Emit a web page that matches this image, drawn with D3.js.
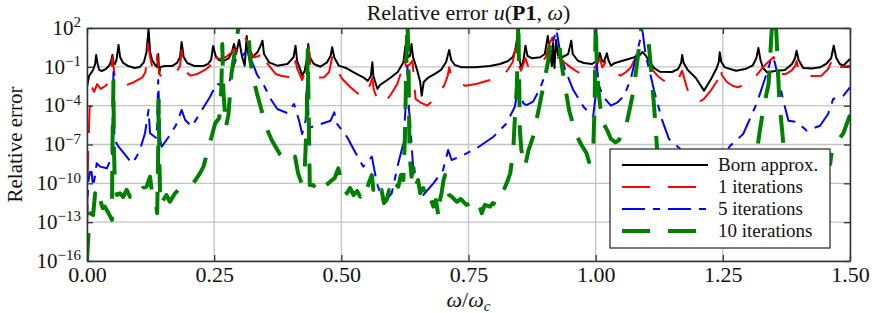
<!DOCTYPE html>
<html>
<head>
<meta charset="utf-8">
<script src="https://cdn.jsdelivr.net/npm/d3@7"></script>
<style>
  body { margin: 0; background: #fff; }
  svg text { font-family: "Liberation Serif", "DejaVu Serif", serif; fill: #111; }
</style>
</head>
<body>
<div id="chart"></div>
<script>
// x tick labels and y tick exponents
const xTicks = [0, 0.25, 0.5, 0.75, 1.0, 1.25, 1.5];
const yTickExps = [2, -1, -4, -7, -10, -13, -16];

// series: [omega/omega_c, log10(relative error)]
const born = [
  [0.000,-2.56],[0.004,-1.71],[0.008,-1.48],[0.012,-1.24],[0.016,-0.78],[0.018,-0.09],[0.021,-0.78],
  [0.024,-1.24],[0.029,-1.32],[0.037,-1.17],[0.043,-0.94],[0.047,-0.63],[0.050,-0.09],[0.052,-0.63],
  [0.055,-0.78],[0.058,-0.47],[0.062,0.69],[0.065,-0.24],[0.071,-0.70],[0.081,-0.94],[0.094,-1.09],
  [0.104,-1.01],[0.112,-0.63],[0.117,0.15],[0.121,1.96],[0.124,0.15],[0.128,-0.47],[0.134,-0.86],
  [0.138,-1.01],[0.140,0.0],[0.142,-1.55],[0.144,-1.01],[0.153,-0.94],[0.167,-0.94],[0.177,-0.70],
  [0.183,-0.24],[0.186,0.92],[0.190,-0.24],[0.197,-0.70],[0.212,-0.94],[0.228,-0.94],[0.238,-0.78],
  [0.244,-0.47],[0.248,0.61],[0.253,-0.16],[0.259,-0.47],[0.269,-0.55],[0.279,-0.32],[0.285,0.15],
  [0.289,0.76],[0.293,-0.01],[0.299,1.07],[0.305,-0.24],[0.310,-0.91],[0.314,1.38],[0.317,-0.01],
  [0.320,-0.53],[0.325,-0.26],[0.335,0.12],[0.341,0.61],[0.345,1.02],[0.348,-0.01],[0.358,-0.65],
  [0.374,-0.91],[0.394,-0.78],[0.406,-0.26],[0.410,0.63],[0.413,-0.53],[0.419,-1.17],[0.423,-1.68],
  [0.428,-1.30],[0.433,-0.26],[0.435,0.76],[0.438,-0.26],[0.446,-0.78],[0.459,-0.99],[0.472,-0.65],
  [0.479,-0.14],[0.482,0.51],[0.486,-0.26],[0.495,-0.91],[0.509,-1.09],[0.527,-1.48],[0.545,-1.86],
  [0.552,-2.09],[0.558,-1.71],[0.561,-0.65],[0.563,-1.71],[0.571,-2.71],[0.576,-2.40],[0.596,-1.86],
  [0.611,-1.40],[0.622,-0.65],[0.626,0.61],[0.631,-0.24],[0.635,-0.16],[0.638,0.76],[0.641,-0.24],
  [0.649,-1.24],[0.655,-2.17],[0.658,-3.23],[0.662,-2.17],[0.670,-1.86],[0.684,-1.55],[0.696,-1.24],
  [0.706,-0.63],[0.712,0.30],[0.716,-0.47],[0.723,-0.86],[0.737,-1.04],[0.763,-1.04],[0.792,-0.94],
  [0.812,-0.78],[0.828,-0.55],[0.837,-0.24],[0.842,0.30],[0.846,1.28],[0.849,-0.09],[0.854,-1.17],
  [0.858,-0.47],[0.862,0.63],[0.866,-0.16],[0.875,-0.34],[0.891,-0.26],[0.900,-0.01],[0.906,1.38],
  [0.910,0.15],[0.914,-0.94],[0.916,0.84],[0.919,-1.09],[0.922,1.07],[0.926,-0.09],[0.934,-0.26],
  [0.946,-0.01],[0.952,1.02],[0.955,-0.01],[0.965,-0.53],[0.977,-0.70],[0.993,-0.78],[1.005,-0.47],
  [1.008,0.07],[1.012,-0.47],[1.016,-0.65],[1.022,0.05],[1.025,-0.47],[1.030,-0.91],[1.038,-0.70],
  [1.058,-0.47],[1.076,-0.26],[1.088,-0.05],[1.092,0.15],[1.099,-0.16],[1.107,-0.70],[1.115,-1.09],
  [1.126,-1.38],[1.150,-1.40],[1.162,-1.17],[1.168,-0.70],[1.170,-0.09],[1.173,-0.70],[1.181,-1.24],
  [1.197,-1.86],[1.213,-2.84],[1.228,-1.86],[1.238,-1.09],[1.242,-0.63],[1.244,0.12],[1.247,-0.63],
  [1.254,-1.04],[1.276,-1.30],[1.294,-1.17],[1.309,-0.88],[1.316,-0.32],[1.320,0.45],[1.324,-0.47],
  [1.329,-1.09],[1.337,-1.42],[1.353,-1.32],[1.372,-1.24],[1.386,-0.78],[1.392,-0.32],[1.395,0.25],
  [1.399,-0.47],[1.408,-1.09],[1.425,-1.13],[1.441,-1.04],[1.453,-0.78],[1.463,-0.32],[1.468,0.63],
  [1.473,-0.32],[1.480,-0.78],[1.487,-0.91],[1.494,-0.63],[1.500,-0.40]
];

const iter1 = [
  [0.000,-13.22],[0.002,-8.20],[0.005,-4.33],[0.007,-3.72],[0.010,-2.58],[0.014,-2.94],[0.020,-2.33],
  [0.027,-2.71],[0.037,-2.46],[0.043,-2.17],[0.047,-1.55],[0.050,-0.26],[0.054,-1.55],[0.060,-2.25],
  [0.069,-2.46],[0.081,-2.36],[0.092,-2.19],[0.109,-1.81],[0.115,-1.40],[0.120,0.76],[0.124,-0.24],
  [0.128,-0.94],[0.135,-1.40],[0.138,-0.09],[0.142,-1.55],[0.148,-1.81],[0.165,-1.55],[0.177,-1.32],
  [0.183,-0.94],[0.186,0.30],[0.191,-1.30],[0.204,-1.68],[0.217,-1.55],[0.232,-1.24],[0.242,-0.94],
  [0.248,0.15],[0.254,-0.32],[0.263,-0.39],[0.273,-0.24],[0.283,0.07],[0.289,0.38],[0.297,0.15],
  [0.303,0.92],[0.309,1.30],[0.314,1.07],[0.320,0.30],[0.328,-0.26],[0.338,-0.16],[0.345,0.25],
  [0.348,-0.32],[0.355,-0.78],[0.371,-1.55],[0.383,-1.71],[0.404,-1.81],[0.408,-1.24],[0.410,-0.53],
  [0.413,-1.09],[0.423,-2.02],[0.431,-1.09],[0.436,0.51],[0.439,-0.94],[0.443,-1.68],[0.454,-1.82],
  [0.466,-1.81],[0.476,-1.40],[0.482,-0.26],[0.486,-0.94],[0.492,-1.30],[0.502,-1.94],[0.518,-2.58],
  [0.531,-3.02],[0.545,-3.35],[0.554,-2.64],[0.558,-2.19],[0.561,-1.86],[0.564,-2.79],[0.570,-3.41],
  [0.584,-3.87],[0.598,-3.10],[0.610,-2.33],[0.619,-1.24],[0.623,-0.26],[0.627,-0.94],[0.633,-0.86],
  [0.640,-0.53],[0.643,-2.17],[0.646,-3.48],[0.657,-3.79],[0.669,-4.00],[0.679,-3.62],[0.690,-3.02],
  [0.702,-2.46],[0.709,-1.71],[0.712,-1.04],[0.716,-1.71],[0.729,-2.25],[0.744,-2.46],[0.765,-2.33],
  [0.782,-2.13],[0.800,-1.94],[0.812,-1.79],[0.826,-1.30],[0.837,-0.63],[0.843,0.51],[0.846,-0.47],
  [0.853,-1.30],[0.858,-0.78],[0.862,-0.32],[0.867,-0.94],[0.875,-1.04],[0.891,-0.78],[0.902,-0.26],
  [0.908,0.69],[0.915,1.28],[0.919,0.45],[0.922,-0.32],[0.928,-0.26],[0.940,-0.70],[0.951,-1.04],
  [0.963,-1.36],[0.977,-1.68],[0.991,-1.40],[1.003,-0.78],[1.008,-0.32],[1.013,-1.04],[1.020,-0.63],
  [1.024,-0.78],[1.036,-1.40],[1.049,-1.68],[1.060,-1.40],[1.069,-1.04],[1.082,-0.01],[1.091,0.15],
  [1.102,-0.14],[1.107,-0.63],[1.111,-1.17],[1.122,-1.71],[1.134,-2.07],[1.151,-2.33],[1.164,-1.81],
  [1.170,-1.30],[1.174,-1.86],[1.180,-2.71],[1.188,-3.25],[1.197,-3.74],[1.205,-3.68],[1.213,-3.48],
  [1.227,-2.79],[1.239,-2.07],[1.244,-1.40],[1.246,-1.04],[1.248,-1.63],[1.258,-2.17],[1.270,-2.48],
  [1.280,-2.58],[1.303,-2.19],[1.315,-1.71],[1.326,-1.17],[1.335,-0.78],[1.346,-0.39],[1.350,-0.24],
  [1.354,-0.94],[1.362,-1.55],[1.374,-1.55],[1.385,-1.30],[1.392,-0.94],[1.395,-0.53],[1.398,-1.09],
  [1.402,-1.55],[1.421,-1.71],[1.444,-1.68],[1.457,-1.17],[1.467,-0.26],[1.472,-0.78],[1.480,-1.04],
  [1.490,-0.97],[1.500,-0.91]
];

const iter5 = [
  [0.000,-13.45],[0.001,-11.29],[0.003,-9.74],[0.006,-9.12],[0.009,-9.10],[0.012,-10.26],[0.016,-9.36],
  [0.019,-8.45],[0.026,-8.71],[0.039,-8.84],[0.049,-7.94],[0.052,-1.40],[0.054,-6.65],[0.062,-7.17],
  [0.078,-7.94],[0.088,-8.45],[0.096,-8.04],[0.104,-7.43],[0.114,-6.13],[0.121,-4.33],[0.124,-6.13],
  [0.137,-6.52],[0.140,-2.02],[0.144,-6.65],[0.147,-7.17],[0.163,-6.27],[0.175,-5.49],[0.186,-4.33],
  [0.193,-5.11],[0.206,-5.62],[0.222,-4.59],[0.242,-3.31],[0.255,-2.27],[0.268,-2.53],[0.281,-2.02],
  [0.288,-0.99],[0.295,-0.16],[0.304,-0.22],[0.314,0.22],[0.324,-0.55],[0.334,-1.59],[0.347,-2.36],
  [0.360,-3.41],[0.374,-4.26],[0.394,-4.57],[0.407,-3.87],[0.417,-5.16],[0.423,-6.19],[0.430,-5.11],
  [0.433,-1.81],[0.436,-5.49],[0.440,-5.67],[0.459,-5.42],[0.479,-5.16],[0.486,-4.51],[0.492,-5.42],
  [0.511,-6.40],[0.527,-7.58],[0.543,-8.71],[0.560,-7.94],[0.570,-10.00],[0.583,-11.54],[0.599,-10.77],
  [0.612,-8.45],[0.622,-6.91],[0.626,-4.33],[0.630,-0.99],[0.633,-4.33],[0.635,-5.11],[0.641,-8.71],
  [0.651,-10.13],[0.661,-10.90],[0.681,-10.00],[0.700,-8.97],[0.710,-7.43],[0.717,-8.20],[0.740,-7.81],
  [0.766,-7.29],[0.799,-6.40],[0.825,-5.36],[0.841,-4.08],[0.848,-2.53],[0.858,-3.82],[0.864,-3.95],
  [0.877,-3.69],[0.891,-2.64],[0.904,-1.24],[0.917,1.07],[0.923,1.85],[0.930,0.15],[0.940,-1.24],
  [0.956,-2.79],[0.976,-4.08],[0.995,-4.85],[1.000,-3.18],[1.002,-0.73],[1.006,-2.40],[1.015,-3.31],
  [1.030,-4.00],[1.043,-3.74],[1.056,-3.23],[1.069,-1.94],[1.082,0.25],[1.092,1.79],[1.098,-0.01],
  [1.115,-2.84],[1.131,-5.16],[1.144,-6.57],[1.170,-7.48],[1.215,-10.13],[1.264,-7.12],[1.290,-6.19],
  [1.317,-3.79],[1.336,-1.55],[1.346,-0.26],[1.352,-0.63],[1.369,-3.62],[1.379,-5.16],[1.395,-5.26],
  [1.415,-5.93],[1.441,-5.55],[1.457,-4.64],[1.467,-3.48],[1.487,-3.23],[1.500,-2.58]
];

const iter10 = [
  [0.000,-16.0],[0.003,-13.86],[0.006,-12.31],[0.012,-12.45],[0.016,-10.77],[0.020,-11.67],[0.026,-11.29],
  [0.031,-11.91],[0.035,-11.80],[0.041,-12.21],[0.049,-12.83],[0.050,-7.43],[0.052,-2.07],[0.053,-7.43],
  [0.055,-10.26],[0.059,-10.90],[0.065,-10.77],[0.071,-11.06],[0.078,-10.51],[0.085,-11.06],[0.091,-11.03],
  [0.098,-10.59],[0.104,-10.77],[0.110,-10.36],[0.117,-10.26],[0.124,-9.49],[0.127,-10.51],[0.130,-11.03],
  [0.136,-11.67],[0.138,-12.31],[0.140,-7.43],[0.141,-3.56],[0.142,-7.43],[0.144,-11.67],[0.150,-11.29],
  [0.156,-10.90],[0.163,-11.42],[0.173,-10.77],[0.183,-10.38],[0.196,-10.13],[0.209,-10.00],[0.222,-9.23],
  [0.229,-8.71],[0.240,-7.12],[0.252,-5.36],[0.260,-4.95],[0.264,-2.79],[0.266,0.76],[0.268,-2.79],
  [0.273,-5.67],[0.278,-4.72],[0.284,-1.55],[0.291,0.30],[0.297,1.85],[0.308,3.0],[0.317,1.85],
  [0.321,-0.47],[0.327,-1.86],[0.334,-3.04],[0.343,-4.33],[0.353,-5.73],[0.363,-6.65],[0.379,-7.74],
  [0.393,-8.35],[0.401,-8.20],[0.409,-7.94],[0.415,-9.23],[0.422,-10.00],[0.428,-8.97],[0.432,-5.11],
  [0.434,0.30],[0.436,-5.11],[0.438,-10.13],[0.445,-10.13],[0.451,-10.51],[0.458,-10.00],[0.468,-10.21],
  [0.478,-9.87],[0.487,-9.59],[0.494,-8.84],[0.497,-9.36],[0.501,-10.26],[0.511,-10.77],[0.517,-10.36],
  [0.524,-10.90],[0.531,-10.59],[0.537,-11.03],[0.543,-10.28],[0.550,-10.51],[0.554,-9.97],[0.560,-9.36],
  [0.563,-10.51],[0.566,-10.26],[0.572,-10.90],[0.579,-10.51],[0.584,-11.52],[0.589,-11.29],[0.594,-10.51],
  [0.599,-10.77],[0.605,-9.90],[0.612,-10.26],[0.617,-9.36],[0.622,-9.74],[0.625,-6.40],[0.628,-0.47],
  [0.630,2.6],[0.632,-0.47],[0.634,-7.68],[0.638,-9.49],[0.642,-8.82],[0.645,-10.26],[0.651,-9.74],
  [0.655,-10.77],[0.661,-10.36],[0.668,-11.29],[0.674,-10.98],[0.681,-11.80],[0.686,-11.29],[0.691,-12.58],
  [0.694,-11.29],[0.697,-10.77],[0.701,-9.74],[0.704,-9.36],[0.707,-10.51],[0.712,-10.90],[0.717,-11.03],
  [0.727,-11.42],[0.735,-11.21],[0.746,-11.67],[0.755,-11.52],[0.766,-11.93],[0.771,-11.60],[0.776,-12.31],
  [0.782,-11.67],[0.792,-11.80],[0.798,-11.52],[0.805,-11.67],[0.812,-11.13],[0.818,-10.65],[0.826,-9.90],
  [0.832,-9.23],[0.838,-7.43],[0.841,-5.11],[0.845,-2.53],[0.848,2.6],[0.851,-5.88],[0.854,-7.43],
  [0.861,-8.71],[0.868,-7.43],[0.877,-6.40],[0.887,-4.49],[0.897,-2.53],[0.907,-0.47],[0.914,1.85],
  [0.920,3.0],[0.926,1.85],[0.931,-0.26],[0.938,-2.07],[0.948,-4.39],[0.961,-6.19],[0.971,-6.96],
  [0.982,-7.68],[0.987,-8.35],[0.991,-8.04],[0.995,-7.68],[0.998,-3.82],[1.000,2.6],[1.002,-0.47],
  [1.005,-2.64],[1.013,-5.42],[1.016,-5.42],[1.023,-5.93],[1.030,-6.57],[1.039,-6.83],[1.046,-6.65],
  [1.056,-5.42],[1.061,-5.36],[1.074,-2.94],[1.082,-0.53],[1.089,1.79],[1.095,3.0],[1.102,1.79],
  [1.108,-0.78],[1.115,-4.13],[1.121,-7.48],[1.136,-10.13],[1.205,-11.67],[1.284,-10.51],[1.313,-8.58],
  [1.323,-5.88],[1.327,-4.88],[1.336,-3.04],[1.340,-2.33],[1.346,1.79],[1.351,3.0],[1.355,1.79],
  [1.361,-3.62],[1.369,-6.96],[1.382,-8.58],[1.421,-10.13],[1.451,-8.97],[1.461,-8.51],[1.465,-7.27],
  [1.487,-6.13],[1.500,-4.72]
];

const seriesNames = ["Born approx.", "1 iterations", "5 iterations", "10 iterations"];
const seriesData = [born, iter1, iter5, iter10];
const seriesColors = ["#000000", "#ff0000", "#0000ff", "#008000"];
const seriesWidths = [2, 2, 2, 4];
const seriesDashes = [null, "28,18", "23,8,7,8", "28,18"];

const width = 872, height = 313;
const margin = { top: 28, right: 22, bottom: 52, left: 87 };
const innerW = width - margin.left - margin.right;
const innerH = height - margin.top - margin.bottom;

const svg = d3.select("#chart").append("svg")
  .attr("width", width).attr("height", height);

const x = d3.scaleLinear().domain([0, 1.5]).range([margin.left, width - margin.right]);
const y = d3.scaleLog().domain([1e-16, 1e2]).range([height - margin.bottom, margin.top]);
const yTicks = yTickExps.map(e => Math.pow(10, e));

// grid
const grid = svg.append("g").attr("stroke", "#c4c4c4").attr("stroke-width", 1.3);
grid.selectAll("line.gx").data(xTicks).join("line")
  .attr("x1", d => x(d)).attr("x2", d => x(d))
  .attr("y1", margin.top).attr("y2", height - margin.bottom);
grid.selectAll("line.gy").data(yTicks).join("line")
  .attr("x1", margin.left).attr("x2", width - margin.right)
  .attr("y1", d => y(d)).attr("y2", d => y(d));

svg.append("clipPath").attr("id", "clip").append("rect")
  .attr("x", margin.left).attr("y", margin.top).attr("width", innerW).attr("height", innerH);

const line = d3.line().x(d => x(d[0])).y(d => y(Math.pow(10, d[1])));

const plot = svg.append("g").attr("clip-path", "url(#clip)");
seriesData.forEach((s, i) => {
  plot.append("path").datum(s)
    .attr("d", line)
    .attr("fill", "none")
    .attr("stroke", seriesColors[i])
    .attr("stroke-width", seriesWidths[i])
    .attr("stroke-dasharray", seriesDashes[i])
    .attr("stroke-linejoin", "round");
});

// axes with inward ticks on all sides
const axisStyle = g => {
  g.select(".domain").attr("stroke", "#333").attr("stroke-width", 1.5);
  g.selectAll(".tick line").attr("stroke", "#333").attr("stroke-width", 1.3);
};
svg.append("g").attr("transform", `translate(0,${height - margin.bottom})`)
  .call(d3.axisBottom(x).tickValues(xTicks).tickSize(-6).tickSizeOuter(0).tickPadding(5).tickFormat(d3.format(".2f")))
  .call(axisStyle)
  .call(g => g.selectAll("text").attr("font-size", 22).attr("font-family", "Liberation Serif").attr("fill", "#111"));
svg.append("g").attr("transform", `translate(0,${margin.top})`)
  .call(d3.axisTop(x).tickValues(xTicks).tickSize(-6).tickSizeOuter(0).tickFormat(""))
  .call(axisStyle);
svg.append("g").attr("transform", `translate(${margin.left},0)`)
  .call(d3.axisLeft(y).tickValues(yTicks).tickSize(-6).tickSizeOuter(0).tickPadding(8).tickFormat(""))
  .call(axisStyle)
  .call(g => g.selectAll(".tick").each(function (d) {
    const t = d3.select(this).append("text")
      .attr("x", -6).attr("dy", "0.3em").attr("text-anchor", "end")
      .attr("font-size", 21).attr("fill", "#111");
    t.append("tspan").text("10");
    t.append("tspan").attr("dy", "-0.5em").attr("font-size", 15)
      .text(String(Math.round(Math.log10(d))).replace("-", "\u2212"));
  }));
svg.append("g").attr("transform", `translate(${width - margin.right},0)`)
  .call(d3.axisRight(y).tickValues(yTicks).tickSize(-6).tickSizeOuter(0).tickFormat(""))
  .call(axisStyle);

// title
const title = svg.append("text").attr("x", (margin.left + width - margin.right) / 2).attr("y", 20)
  .attr("text-anchor", "middle").attr("font-size", 22);
title.append("tspan").text("Relative error ");
title.append("tspan").attr("font-style", "italic").text("u");
title.append("tspan").text("(");
title.append("tspan").attr("font-weight", "bold").text("P1");
title.append("tspan").text(", ");
title.append("tspan").attr("font-style", "italic").text("ω");
title.append("tspan").text(")");

// axis labels
const xl = svg.append("text").attr("x", (margin.left + width - margin.right) / 2).attr("y", 307)
  .attr("text-anchor", "middle").attr("font-size", 22);
xl.append("tspan").attr("font-style", "italic").text("ω");
xl.append("tspan").text("/");
xl.append("tspan").attr("font-style", "italic").text("ω");
xl.append("tspan").attr("font-style", "italic").attr("font-size", 15).attr("dy", 4).text("c");

svg.append("text").attr("transform", `translate(22,${(margin.top + height - margin.bottom) / 2}) rotate(-90)`)
  .attr("text-anchor", "middle").attr("font-size", 21).text("Relative error");

// legend
const lg = svg.append("g");
lg.append("rect").attr("x", 610).attr("y", 149).attr("width", 220).attr("height", 99)
  .attr("fill", "#fff").attr("stroke", "#333").attr("stroke-width", 1.3);
seriesNames.forEach((name, i) => {
  const ly = 165 + i * 22;
  lg.append("line").attr("x1", 622).attr("x2", 708).attr("y1", ly).attr("y2", ly)
    .attr("stroke", seriesColors[i]).attr("stroke-width", seriesWidths[i])
    .attr("stroke-dasharray", seriesDashes[i]);
  lg.append("text").attr("x", 718).attr("y", ly + 6).attr("font-size", 19).text(name);
});
</script>
</body>
</html>
